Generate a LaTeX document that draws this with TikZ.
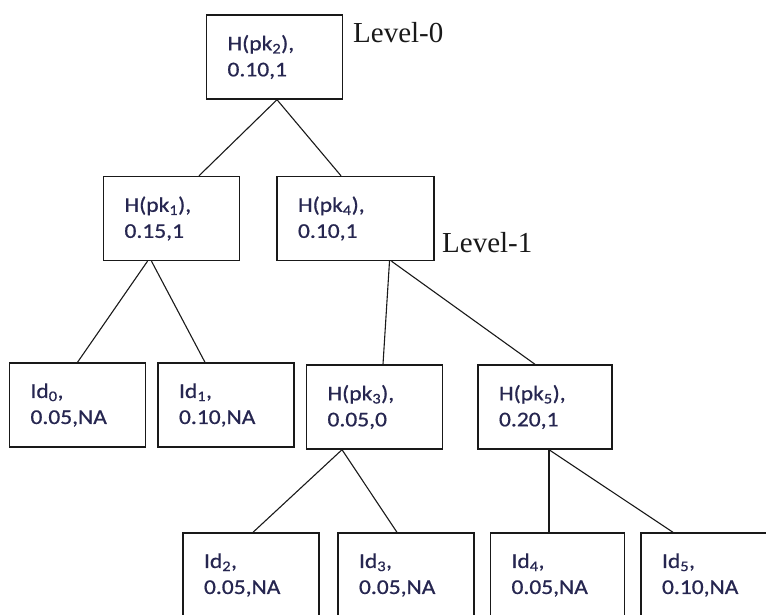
\documentclass[tikz,border=0pt]{standalone}
\usepackage{fontspec}
\setmainfont{Liberation Serif}
\newfontfamily\boxfont[FakeStretch=1.12,FakeBold=0.7]{Carlito}
\usetikzlibrary{positioning}
\definecolor{txtblue}{RGB}{38,38,80}
\definecolor{edgegray}{RGB}{25,25,25}
\begin{document}
\begin{tikzpicture}[x=1pt,y=-1pt,
  box/.style={draw=edgegray,line width=1.4pt,rectangle,inner xsep=21pt,inner ysep=0pt,
    text width=94pt,minimum height=84pt,align=left,text=txtblue,
    font=\boxfont\fontsize{21}{26}\selectfont},
  lvl/.style={anchor=base west,inner sep=0pt,font=\fontsize{29}{32}\selectfont,text=black!90},
  edge/.style={draw=edgegray,line width=1.1pt}]
  \useasboundingbox (0,0) rectangle (766,614);
  \clip (0,0) rectangle (766,614);
  % level 0
  \node[box] (pk2) at (274.5,57) {H(pk\textsubscript{2}),\\0.10,1};
  \node[lvl] (lv0) at (353,42) {Level-0};
  % level 1
  \node[box] (pk1) at (171.5,218.5) {H(pk\textsubscript{1}),\\0.15,1};
  \node[box,text width=115pt] (pk4) at (355.5,218.5) {H(pk\textsubscript{4}),\\0.10,1};
  \node[lvl] (lv1) at (442,252) {Level-1};
  % level 2
  \node[box] (id0) at (77.5,405) {Id\textsubscript{0},\\0.05,NA};
  \node[box] (id1) at (226,405) {Id\textsubscript{1},\\0.10,NA};
  \node[box] (pk3) at (374.5,407) {H(pk\textsubscript{3}),\\0.05,0};
  \node[box,text width=92pt] (pk5) at (545,407) {H(pk\textsubscript{5}),\\0.20,1};
  % level 3
  \node[box] (id2) at (251,575) {Id\textsubscript{2},\\0.05,NA};
  \node[box] (id3) at (406,575) {Id\textsubscript{3},\\0.05,NA};
  \node[box,text width=92pt] (id4) at (557.5,575) {Id\textsubscript{4},\\0.05,NA};
  \node[box] (id5) at (709,575) {Id\textsubscript{5},\\0.10,NA};
  % connectors
  \foreach \a/\da/\b/\db in {pk2/2.5/pk1/27.5,pk2/2.5/pk4/-14.5,
      pk1/-24/id0/0,pk1/-20/id1/-21,pk4/34/pk3/8.5,pk4/36/pk5/-10,
      pk3/-32.5/id2/2,pk3/-32.5/id3/-9,pk5/4/id4/-8.5,pk5/4/id5/-36}
    \path[edge] ([xshift=\da pt]\a.south)--([xshift=\db pt]\b.north);
\end{tikzpicture}
\end{document}
